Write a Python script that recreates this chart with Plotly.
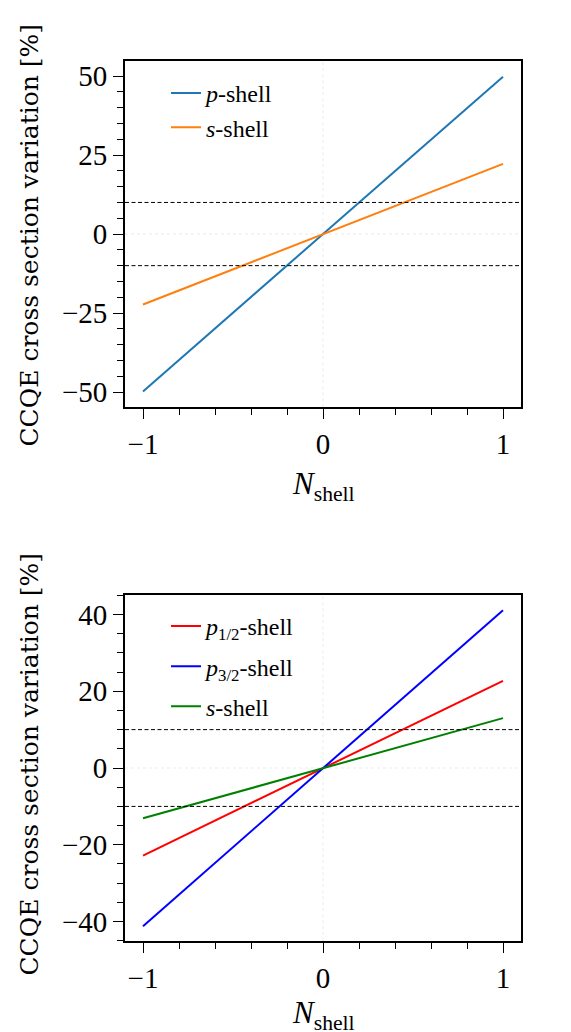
import plotly.graph_objects as go

# ---- data ----
n_shell = [-1.0, 0.0, 1.0]
top_p_shell = [-49.8, 0.0, 49.8]
top_s_shell = [-22.3, 0.0, 22.2]
bot_p12_shell = [-22.8, 0.0, 22.7]
bot_p32_shell = [-41.2, 0.0, 41.1]
bot_s_shell = [-13.1, 0.0, 13.0]
band = [-10, 10]
top_yticks = [-50, -25, 0, 25, 50]
bot_yticks = [-40, -20, 0, 20, 40]
xticks = [-1, 0, 1]

W, H = 571, 1032
FONT = "Liberation Serif"
LFONT = "DejaVu Serif"

fig = go.Figure()

def add(x, y, name, color, xa, ya, legend, group):
    fig.add_trace(go.Scatter(x=x, y=y, mode="lines", name=name,
                             line=dict(color=color, width=2),
                             xaxis=xa, yaxis=ya, legend=legend, legendgroup=group))

add(n_shell, top_p_shell, "<i>p</i>-shell", "#1f77b4", "x", "y", "legend", "a")
add(n_shell, top_s_shell, "<i>s</i>-shell", "#ff7f0e", "x", "y", "legend", "b")
add(n_shell, bot_p12_shell, "<i>p</i><sub>1/2</sub>-shell", "#ff0000", "x2", "y2", "legend2", "c")
add(n_shell, bot_p32_shell, "<i>p</i><sub>3/2</sub>-shell", "#0000ff", "x2", "y2", "legend2", "d")
add(n_shell, bot_s_shell, "<i>s</i>-shell", "#008000", "x2", "y2", "legend2", "e")

xdom = [125 / W, 521 / W]
ydom_top = [1 - 407 / H, 1 - 60 / H]
ydom_bot = [1 - 942 / H, 1 - 595 / H]

def xaxis(anchor, dom):
    return dict(domain=xdom, anchor=anchor, range=[-1.1, 1.1],
                tickvals=xticks, ticks="outside", ticklen=10, tickwidth=1.3,
                tickcolor="black",
                minor=dict(dtick=0.2, tick0=0, ticks="outside", ticklen=6,
                           tickwidth=1.1, tickcolor="black", showgrid=False),
                showline=True, linecolor="black", linewidth=1.8, mirror=True,
                showgrid=False, zeroline=False,
                tickfont=dict(family=FONT, size=29, color="black"))

def yaxis(anchor, dom, rng, tv):
    return dict(domain=dom, anchor=anchor, range=rng, tickvals=tv,
                ticks="outside", ticklen=10, tickwidth=1.3, tickcolor="black",
                minor=dict(dtick=5, tick0=0, ticks="outside", ticklen=6,
                           tickwidth=1.1, tickcolor="black", showgrid=False),
                showline=True, linecolor="black", linewidth=1.8, mirror=True,
                showgrid=False, zeroline=False,
                tickfont=dict(family=FONT, size=29, color="black"))

fig.update_layout(
    width=W, height=H,
    margin=dict(l=0, r=0, t=0, b=0),
    paper_bgcolor="white", plot_bgcolor="white",
    xaxis=xaxis("y", xdom),
    yaxis=yaxis("x", ydom_top, [-54.8, 54.8], top_yticks),
    xaxis2=xaxis("y2", xdom),
    yaxis2=yaxis("x2", ydom_bot, [-45.1, 45.1], bot_yticks),
    legend=dict(x=166 / W, y=1 - 70 / H, xanchor="left", yanchor="top",
                bgcolor="rgba(0,0,0,0)", font=dict(family=FONT, size=24, color="black"),
                tracegroupgap=0, itemwidth=30),
    legend2=dict(x=166 / W, y=1 - 604 / H, xanchor="left", yanchor="top",
                 bgcolor="rgba(0,0,0,0)", font=dict(family=FONT, size=24, color="black"),
                 tracegroupgap=6, itemwidth=30),
    showlegend=True,
)

# faint dotted zero lines and dashed +/-10% band lines
for xa, ya in [("x", "y"), ("x2", "y2")]:
    fig.add_shape(type="line", xref=xa, yref=ya + " domain", x0=0, x1=0, y0=0, y1=1,
                  line=dict(color="#e6e6e6", width=0.8, dash="dot"), layer="below")
    fig.add_shape(type="line", xref=xa + " domain", yref=ya, x0=0, x1=1, y0=0, y1=0,
                  line=dict(color="#e6e6e6", width=0.8, dash="dot"), layer="below")
    for b in band:
        fig.add_shape(type="line", xref=xa + " domain", yref=ya, x0=0, x1=1, y0=b, y1=b,
                      line=dict(color="black", width=1, dash="4px,2.5px"))

# axis titles
ylabel = "CCQE cross section variation [%]"
for yc in [(10 + 460) / 2, (540 + 990) / 2]:
    fig.add_annotation(text=ylabel, xref="paper", yref="paper", x=30 / W, y=1 - yc / H,
                       textangle=-90, showarrow=False, xanchor="center", yanchor="middle",
                       font=dict(family=LFONT, size=25, color="black"))
for yc in [486, 1016]:
    fig.add_annotation(text="<i>N</i><sub>shell</sub>", xref="paper", yref="paper",
                       x=323 / W, y=1 - yc / H, showarrow=False,
                       xanchor="center", yanchor="middle",
                       font=dict(family=FONT, size=31, color="black"))

fig.write_html("out.html")
